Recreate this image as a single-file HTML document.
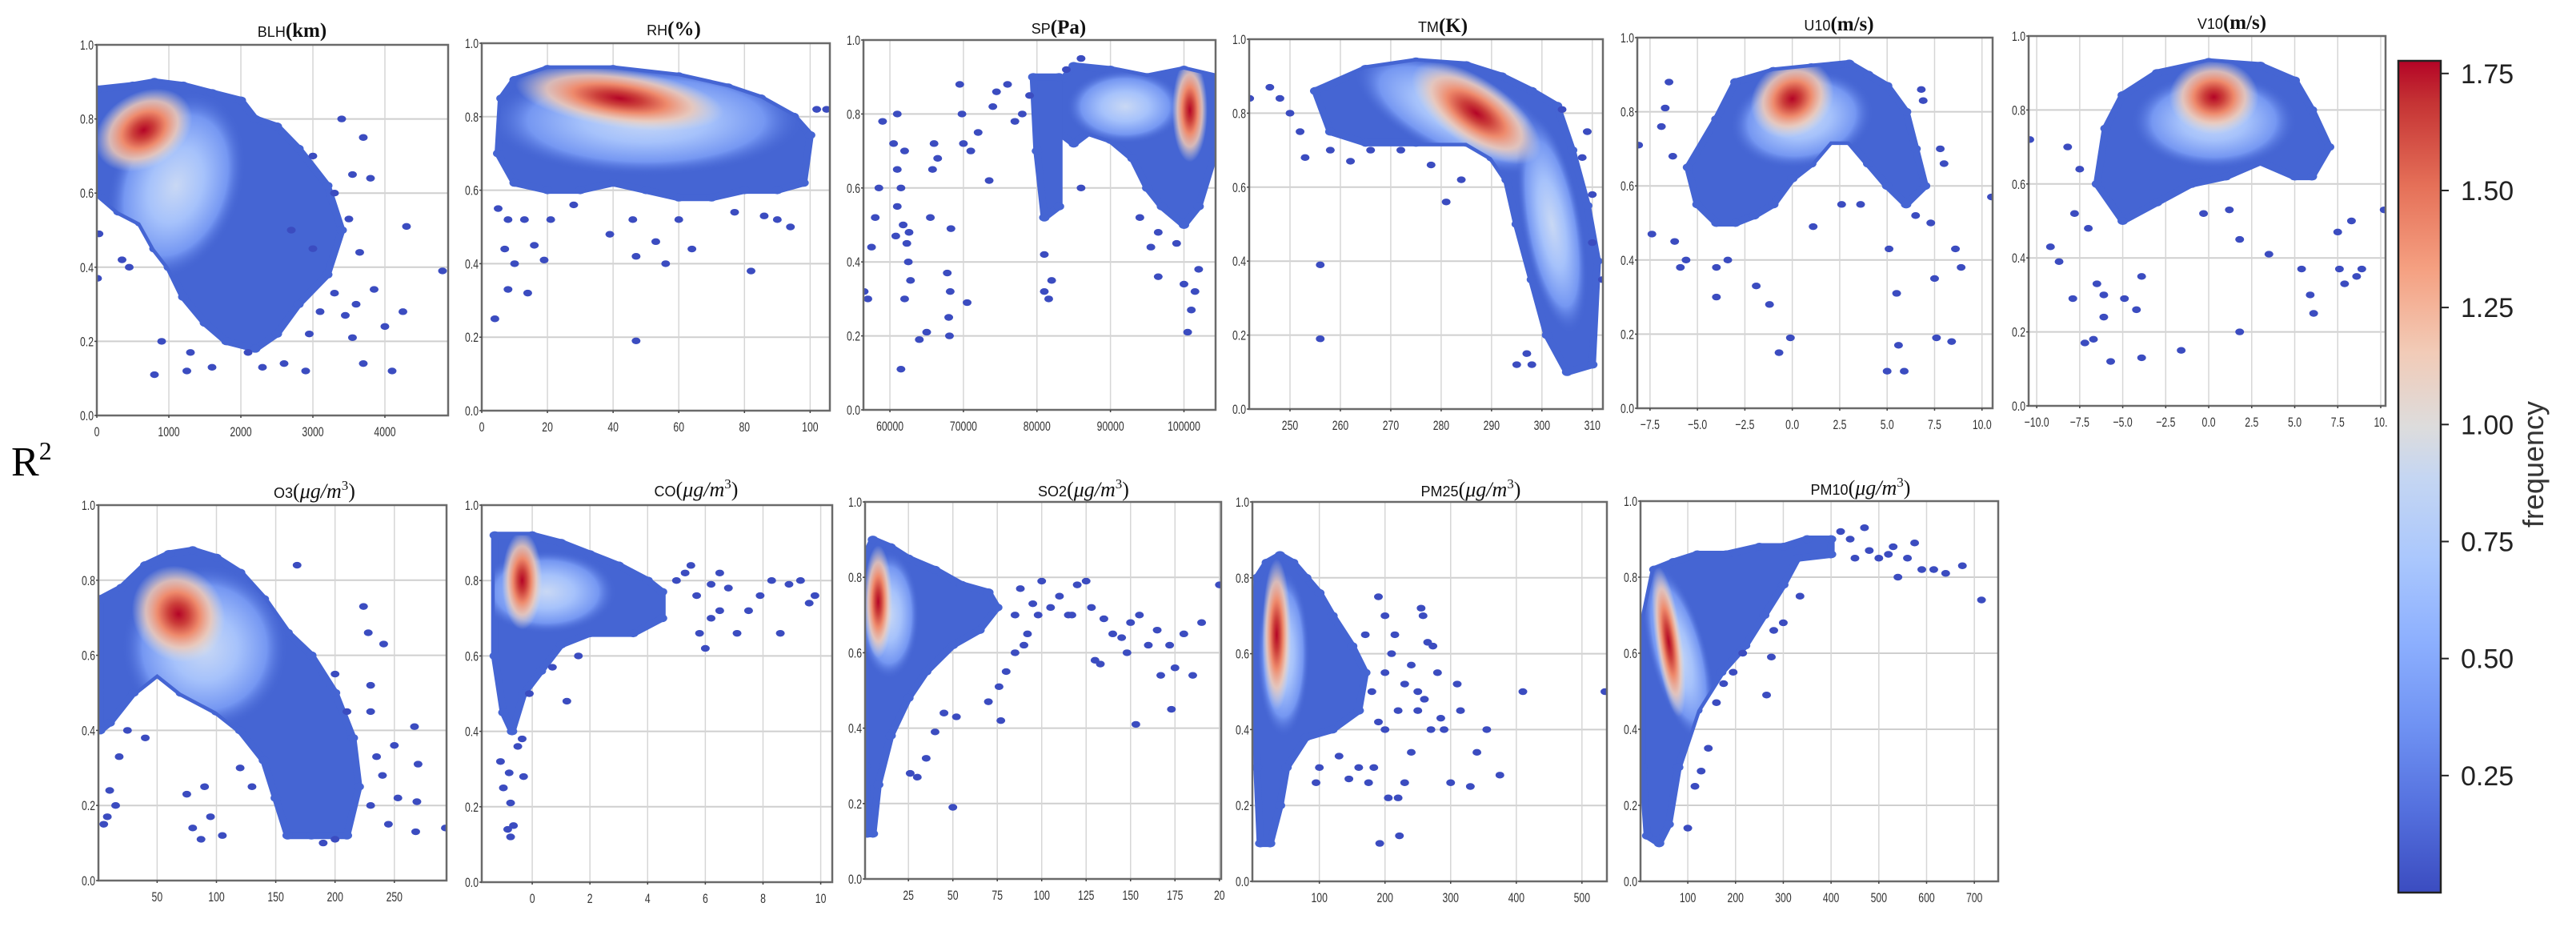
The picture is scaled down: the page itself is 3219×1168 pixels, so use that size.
<!DOCTYPE html>
<html><head><meta charset="utf-8"><title>R2 density scatter</title>
<style>html,body{margin:0;padding:0;background:#fff;}svg{display:block;}</style></head>
<body>
<svg id="chart" xmlns="http://www.w3.org/2000/svg" width="3219" height="1168" viewBox="0 0 3219 1168">
<defs>
<linearGradient id="cmap" x1="0" y1="1" x2="0" y2="0">
<stop offset="0" stop-color="#3b4cc0"/><stop offset="0.1" stop-color="#5470de"/><stop offset="0.2" stop-color="#6f92f3"/><stop offset="0.3" stop-color="#8caffe"/><stop offset="0.4" stop-color="#aac7fd"/><stop offset="0.5" stop-color="#c5d6f2"/><stop offset="0.56" stop-color="#dddcdc"/><stop offset="0.65" stop-color="#f2cbb7"/><stop offset="0.75" stop-color="#f5a081"/><stop offset="0.85" stop-color="#e57058"/><stop offset="0.95" stop-color="#c53334"/><stop offset="1" stop-color="#b40426"/>
</linearGradient>
<radialGradient id="haloGrad"><stop offset="0" stop-color="#c9d8f4"/><stop offset="0.4" stop-color="#a6c2fb"/><stop offset="0.75" stop-color="#7597f2"/><stop offset="1" stop-color="#4565d3" stop-opacity="0"/></radialGradient>
<radialGradient id="coreGrad"><stop offset="0" stop-color="#b40426"/><stop offset="0.22" stop-color="#cc3f3a"/><stop offset="0.45" stop-color="#ee8a6c"/><stop offset="0.7" stop-color="#f0c8b4" stop-opacity="0.85"/><stop offset="1" stop-color="#dddcdc" stop-opacity="0"/></radialGradient>
</defs>
<g id="panels"></g>
<text x="14" y="594" font-family="Liberation Serif, serif" font-size="52">R<tspan font-size="32" dy="-20">2</tspan></text>
<g id="colorbar"></g>
</svg>
<script>
// ---- data (data units: x, R2) ----
const blhEnv=[[0,0.88],[500,0.89],[800,0.9],[1200,0.89],[1600,0.87],[2000,0.85],[2200,0.8],[2500,0.78],[2800,0.72],[3200,0.62],[3400,0.5],[3200,0.38],[2800,0.3],[2500,0.22],[2200,0.18],[1800,0.2],[1500,0.25],[1200,0.32],[1000,0.4],[800,0.45],[600,0.52],[300,0.55],[0,0.6]];
const blhHalo=[1100,0.62,900,0.26,20];
const blhCore=[650,0.77,520,0.14,60];
const blhPts=[[10,0.37],[30,0.49],[800,0.11],[900,0.2],[1250,0.12],[1600,0.13],[2100,0.17],[2600,0.14],[2900,0.12],[3400,0.8],[3700,0.75],[3550,0.65],[3800,0.64],[4300,0.51],[4100,0.12],[4000,0.24],[4250,0.28],[3700,0.14],[4800,0.39],[3550,0.21],[3850,0.34],[3300,0.33],[2950,0.22],[3650,0.44],[3500,0.53],[350,0.42],[450,0.4],[3000,0.7],[3300,0.6],[3000,0.45],[2700,0.5],[3100,0.28],[3450,0.27],[3600,0.3],[1300,0.17],[2300,0.13]];
const rhEnv=[[6,0.85],[10,0.9],[20,0.93],[40,0.93],[60,0.91],[75,0.88],[85,0.85],[95,0.8],[100,0.75],[98,0.62],[90,0.6],[80,0.6],[70,0.58],[60,0.58],[50,0.6],[40,0.62],[30,0.6],[20,0.6],[10,0.62],[5,0.7]];
const rhHalo=[50,0.79,48,0.15,0];
const rhCore=[42,0.85,32,0.08,8];
const rhPts=[[4,0.25],[47,0.19],[8,0.33],[14,0.32],[7,0.44],[10,0.4],[19,0.41],[16,0.45],[39,0.48],[47,0.42],[53,0.46],[56,0.4],[64,0.44],[82,0.38],[94,0.5],[90,0.52],[105,0.82],[102,0.82],[5,0.55],[8,0.52],[13,0.52],[21,0.52],[28,0.56],[46,0.52],[60,0.52],[77,0.54],[86,0.53]];
const spEnv=[[85000,0.93],[90000,0.92],[95000,0.9],[100000,0.92],[104300,0.9],[104300,0.7],[102000,0.55],[100000,0.5],[97000,0.55],[95000,0.6],[93000,0.68],[90000,0.73],[87000,0.75],[85000,0.72],[83000,0.75],[83000,0.88]];
const spEnv2=[[79500,0.9],[83000,0.9],[83000,0.55],[81000,0.52],[80000,0.7]];
const spHalo=[92000,0.82,8000,0.1,0];
const spCore=[100800,0.81,2400,0.14,0];
const spPts=[[60500,0.72],[61000,0.65],[61500,0.6],[61000,0.55],[62000,0.7],[61800,0.5],[62300,0.45],[62500,0.4],[62800,0.35],[62000,0.3],[61500,0.11],[59000,0.78],[58500,0.6],[58000,0.52],[57500,0.44],[57000,0.3],[56500,0.32],[64000,0.19],[65000,0.21],[65500,0.52],[65800,0.65],[66000,0.72],[66500,0.68],[67800,0.37],[68200,0.32],[68000,0.25],[68100,0.2],[68300,0.49],[69500,0.88],[69800,0.8],[70000,0.72],[70500,0.29],[71000,0.7],[72000,0.75],[73500,0.62],[74000,0.82],[74500,0.86],[76000,0.88],[77000,0.78],[78000,0.8],[79000,0.85],[81000,0.42],[81000,0.32],[81600,0.3],[82000,0.35],[86000,0.6],[94000,0.52],[95500,0.44],[96500,0.36],[96500,0.48],[99000,0.45],[100000,0.34],[100500,0.21],[101000,0.27],[101500,0.32],[102000,0.38],[84000,0.92],[86000,0.95],[61000,0.8],[60800,0.47],[62600,0.48]];
const tmEnv=[[255,0.86],[265,0.92],[275,0.94],[285,0.93],[292,0.9],[298,0.86],[303,0.82],[306,0.7],[309,0.55],[311,0.4],[310,0.12],[305,0.1],[301,0.2],[298,0.35],[295,0.5],[293,0.62],[290,0.68],[285,0.72],[275,0.72],[265,0.72],[258,0.75]];
const tmHalo=[283,0.8,22,0.12,25];
const tmHalo2=[302,0.5,6,0.3,-10];
const tmCore=[287,0.8,15,0.09,35];
const tmPts=[[242,0.84],[246,0.87],[248,0.84],[250,0.8],[252,0.75],[253,0.68],[256,0.39],[256,0.19],[258,0.7],[262,0.67],[266,0.7],[272,0.7],[278,0.66],[281,0.56],[284,0.62],[295,0.12],[297,0.15],[298,0.12],[312,0.35],[310,0.45],[310,0.58],[309,0.75],[308,0.68],[304,0.81]];
const u10Env=[[-4,0.78],[-3,0.88],[-1,0.91],[1,0.92],[3,0.93],[4,0.9],[5,0.87],[6,0.8],[6.5,0.7],[7,0.6],[6,0.55],[5,0.6],[4,0.66],[3,0.72],[2,0.72],[1,0.66],[0,0.62],[-1,0.55],[-2,0.52],[-3,0.5],[-4,0.5],[-5,0.55],[-5.5,0.65]];
const u10Halo=[0.5,0.78,3.8,0.13,-10];
const u10Core=[0,0.835,2.3,0.1,-35];
const u10Pts=[[-6.5,0.88],[-6.7,0.81],[-6.9,0.76],[-7.4,0.47],[-6.3,0.68],[-6.2,0.45],[-5.9,0.38],[-5.6,0.4],[-4,0.3],[-4,0.38],[-3.4,0.4],[-1.9,0.33],[-1.2,0.28],[-0.7,0.15],[-0.1,0.19],[1.1,0.49],[2.6,0.55],[3.6,0.55],[5,0.1],[5.1,0.43],[5.5,0.31],[5.6,0.17],[5.9,0.1],[7.5,0.35],[7.6,0.19],[8.4,0.18],[8.6,0.43],[8.9,0.38],[7.8,0.7],[8,0.66],[6.8,0.86],[6.9,0.83],[10.5,0.57],[-8.1,0.71],[7.3,0.5],[6.5,0.52]];
const v10Env=[[-5,0.84],[-3,0.9],[0,0.93],[3,0.92],[5,0.88],[6,0.8],[7,0.7],[6,0.62],[5,0.62],[3,0.66],[1,0.62],[-1,0.6],[-3,0.55],[-5,0.5],[-6.5,0.6],[-6,0.75]];
const v10Halo=[0.3,0.77,4.8,0.13,0];
const v10Core=[0.3,0.835,2.6,0.1,0];
const v10Pts=[[-10.4,0.72],[-9.2,0.43],[-8.7,0.39],[-8.2,0.7],[-7.9,0.29],[-7.8,0.52],[-7.2,0.17],[-6.7,0.18],[-6.5,0.33],[-6.1,0.3],[-6.1,0.24],[-5.7,0.12],[-4.9,0.29],[-4.2,0.26],[-3.9,0.35],[-3.9,0.13],[-1.6,0.15],[1.8,0.2],[1.8,0.45],[3.5,0.41],[5.4,0.37],[5.9,0.3],[6.1,0.25],[7.6,0.37],[7.9,0.33],[8.6,0.35],[8.9,0.37],[8.3,0.5],[7.5,0.47],[10.2,0.53],[-0.3,0.52],[1.2,0.53],[-7,0.48],[-7.5,0.64]];
const o3Env=[[2,0.75],[20,0.78],[40,0.84],[60,0.87],[80,0.88],[100,0.86],[120,0.82],[140,0.75],[160,0.66],[180,0.6],[200,0.5],[215,0.38],[220,0.25],[210,0.12],[180,0.12],[160,0.12],[150,0.22],[140,0.32],[120,0.4],[100,0.45],[70,0.5],[50,0.55],[30,0.5],[10,0.42],[2,0.4]];
const o3Halo=[90,0.62,70,0.22,40];
const o3Core=[68,0.71,42,0.12,55];
const o3Pts=[[5,0.15],[8,0.17],[10,0.24],[15,0.2],[18,0.33],[25,0.4],[40,0.38],[75,0.23],[80,0.14],[87,0.11],[90,0.25],[95,0.17],[105,0.12],[168,0.84],[224,0.73],[228,0.66],[241,0.63],[230,0.52],[267,0.41],[270,0.31],[269,0.21],[268,0.13],[253,0.22],[250,0.36],[240,0.28],[245,0.15],[293,0.14],[200,0.55],[210,0.45],[230,0.45],[190,0.1],[200,0.11],[120,0.3],[130,0.25],[230,0.2],[235,0.33]];
const coEnv=[[-1.3,0.92],[0,0.92],[1,0.9],[2,0.87],[3,0.84],[4,0.8],[4.5,0.77],[4.5,0.7],[3.5,0.66],[2,0.66],[1,0.63],[0.3,0.56],[-0.3,0.5],[-0.7,0.4],[-1,0.45],[-1.3,0.6]];
const coHalo=[0.5,0.77,2.4,0.11,0];
const coCore=[-0.35,0.8,0.7,0.13,0];
const coPts=[[-1.1,0.32],[-1,0.25],[-0.8,0.29],[-0.75,0.21],[-0.85,0.14],[-0.75,0.12],[-0.65,0.15],[-0.3,0.28],[-0.5,0.36],[-0.35,0.38],[-0.1,0.5],[0.7,0.57],[1.2,0.48],[1.6,0.6],[5,0.8],[5.3,0.82],[5.7,0.76],[6,0.62],[6.2,0.7],[6.5,0.72],[6.8,0.78],[7.1,0.66],[7.5,0.72],[7.9,0.76],[8.3,0.8],[8.6,0.66],[8.9,0.79],[9.3,0.8],[9.6,0.74],[9.8,0.76],[5.8,0.66],[6.2,0.79],[5.5,0.84],[6.5,0.82]];
const so2Env=[[1,0.86],[5,0.9],[15,0.88],[25,0.85],[40,0.82],[55,0.78],[70,0.76],[75,0.72],[65,0.66],[50,0.62],[35,0.55],[25,0.48],[15,0.38],[8,0.25],[5,0.12],[2,0.12],[1,0.3]];
const so2Halo=[14,0.7,17,0.17,0];
const so2Core=[8,0.735,8,0.15,0];
const so2Pts=[[50,0.19],[30,0.27],[26,0.28],[35,0.32],[40,0.39],[45,0.44],[52,0.43],[70,0.47],[77,0.42],[76,0.51],[80,0.55],[85,0.6],[90,0.62],[95,0.73],[100,0.79],[105,0.72],[110,0.75],[115,0.7],[120,0.78],[125,0.79],[128,0.72],[130,0.58],[133,0.57],[135,0.69],[140,0.65],[145,0.64],[148,0.6],[150,0.68],[153,0.41],[155,0.7],[160,0.62],[165,0.66],[167,0.54],[172,0.62],[173,0.45],[175,0.56],[180,0.65],[185,0.54],[190,0.68],[200,0.78],[117,0.7],[92,0.65],[98,0.7],[85,0.7],[88,0.77]];
const pm25Env=[[5,0.8],[20,0.84],[40,0.86],[60,0.84],[80,0.8],[100,0.76],[120,0.7],[150,0.62],[170,0.55],[160,0.45],[120,0.4],[80,0.38],[50,0.3],[40,0.2],[25,0.1],[10,0.1],[5,0.3],[3,0.6]];
const pm25Halo=[45,0.6,40,0.22,0];
const pm25Core=[35,0.65,22,0.2,0];
const pm25Pts=[[130,0.33],[145,0.27],[160,0.3],[175,0.26],[183,0.3],[192,0.1],[205,0.22],[220,0.22],[222,0.12],[230,0.26],[240,0.34],[250,0.45],[258,0.7],[255,0.72],[265,0.63],[273,0.62],[280,0.55],[290,0.4],[300,0.26],[310,0.52],[315,0.45],[330,0.25],[340,0.34],[355,0.4],[375,0.28],[410,0.5],[535,0.5],[200,0.55],[210,0.6],[220,0.45],[230,0.52],[180,0.5],[190,0.42],[240,0.57],[250,0.5],[200,0.7],[215,0.65],[190,0.75],[170,0.65],[100,0.3],[95,0.26],[200,0.4],[260,0.48],[270,0.4],[285,0.43]];
const pm10Env=[[5,0.67],[30,0.82],[70,0.84],[120,0.86],[180,0.86],[250,0.88],[300,0.88],[350,0.9],[400,0.9],[400,0.86],[330,0.85],[300,0.78],[260,0.7],[220,0.62],[170,0.55],[120,0.45],[80,0.3],[60,0.15],[40,0.1],[15,0.12],[5,0.3]];
const pm10Halo=[80,0.6,60,0.24,-15];
const pm10Core=[60,0.63,28,0.2,-8];
const pm10Pts=[[100,0.14],[115,0.25],[128,0.29],[143,0.35],[160,0.47],[175,0.52],[195,0.55],[215,0.6],[265,0.49],[275,0.59],[280,0.66],[300,0.68],[335,0.75],[420,0.92],[440,0.9],[470,0.93],[500,0.85],[520,0.86],[540,0.8],[560,0.85],[575,0.89],[590,0.82],[615,0.82],[640,0.81],[675,0.83],[715,0.74],[530,0.88],[480,0.87],[450,0.85]];
// tick labels
const yTicks=[0,0.2,0.4,0.6,0.8,1.0];
const blhTicks=[0,1000,2000,3000,4000];
const rhTicks=[0,20,40,60,80,100];
const spTicks=[60000,70000,80000,90000,100000];
const tmTicks=[250,260,270,280,290,300,310];
const u10Ticks=[-7.5,-5,-2.5,0,2.5,5,7.5,10];
const v10Ticks=[-10,-7.5,-5,-2.5,0,2.5,5,7.5,10];
const o3Ticks=[50,100,150,200,250];
const coTicks=[0,2,4,6,8,10];
const so2Ticks=[25,50,75,100,125,150,175,200];
const pm25Ticks=[100,200,300,400,500];
const pm10Ticks=[100,200,300,400,500,600,700];
const cbTicks=[0.25,0.5,0.75,1.0,1.25,1.5,1.75];

const NS='http://www.w3.org/2000/svg';
function mk(tag,attrs,parent){const e=document.createElementNS(NS,tag);for(const k in attrs)e.setAttribute(k,attrs[k]);if(parent)parent.appendChild(e);return e;}

const panels=[
{key:'blh',name:'BLH',unit:'(km)',pol:false,L:121,R:560,T:56,B:519,xmin:0,xmax:4878,ticks:blhTicks,fmt:v=>String(v),tx:365,ty:46,env:[blhEnv],halos:[blhHalo],core:blhCore,pts:blhPts},
{key:'rh',name:'RH',unit:'(%)',pol:false,L:602,R:1037,T:54,B:513,xmin:0,xmax:106,ticks:rhTicks,fmt:v=>String(v),tx:842,ty:44,env:[rhEnv],halos:[rhHalo],core:rhCore,pts:rhPts},
{key:'sp',name:'SP',unit:'(Pa)',pol:false,L:1079,R:1519,T:50,B:512,xmin:56400,xmax:104300,ticks:spTicks,fmt:v=>String(v),tx:1323,ty:42,env:[spEnv,spEnv2],halos:[spHalo],core:spCore,pts:spPts},
{key:'tm',name:'TM',unit:'(K)',pol:false,L:1561,R:2003,T:49,B:511,xmin:241.9,xmax:312.1,ticks:tmTicks,fmt:v=>String(v),tx:1803,ty:40,env:[tmEnv],halos:[tmHalo,tmHalo2],core:tmCore,pts:tmPts},
{key:'u10',name:'U10',unit:'(m/s)',pol:false,L:2046,R:2490,T:47,B:510,xmin:-8.17,xmax:10.56,ticks:u10Ticks,fmt:v=>v.toFixed(1).replace('-','\u2212'),tx:2298,ty:38,env:[u10Env],halos:[u10Halo],core:u10Core,pts:u10Pts},
{key:'v10',name:'V10',unit:'(m/s)',pol:false,L:2535,R:2981,T:45,B:507,xmin:-10.47,xmax:10.28,ticks:v10Ticks,fmt:v=>(v===10?'10.':v.toFixed(1).replace('-','\u2212')),tx:2789,ty:36,env:[v10Env],halos:[v10Halo],core:v10Core,pts:v10Pts},
{key:'o3',name:'O3',pol:true,L:123,R:558,T:631,B:1100,xmin:0.5,xmax:294,ticks:o3Ticks,fmt:v=>String(v),tx:393,ty:622,env:[o3Env],halos:[o3Halo],core:o3Core,pts:o3Pts},
{key:'co',name:'CO',pol:true,L:602,R:1040,T:631,B:1102,xmin:-1.75,xmax:10.4,ticks:coTicks,fmt:v=>String(v),tx:870,ty:620,env:[coEnv],halos:[coHalo],core:coCore,pts:coPts},
{key:'so2',name:'SO2',pol:true,L:1081,R:1526,T:627,B:1098,xmin:0.6,xmax:201,ticks:so2Ticks,fmt:v=>(v===200?'20':String(v)),tx:1354,ty:620,env:[so2Env],halos:[so2Halo],core:so2Core,pts:so2Pts},
{key:'pm25',name:'PM25',pol:true,L:1565,R:2008,T:627,B:1101,xmin:-2,xmax:538,ticks:pm25Ticks,fmt:v=>String(v),tx:1838,ty:620,env:[pm25Env],halos:[pm25Halo],core:pm25Core,pts:pm25Pts},
{key:'pm10',name:'PM10',pol:true,L:2050,R:2497,T:626,B:1101,xmin:1,xmax:750,ticks:pm10Ticks,fmt:v=>String(v),tx:2325,ty:618,env:[pm10Env],halos:[pm10Halo],core:pm10Core,pts:pm10Pts}
];

const root=document.getElementById('panels');
const ENV='#4565d3', DOT='#3b4cc0';
panels.forEach(p=>{
  const xs=v=>p.L+(v-p.xmin)/(p.xmax-p.xmin)*(p.R-p.L);
  const ys=v=>p.B-v*(p.B-p.T);
  const g=mk('g',{},root);
  
  
  yTicks.forEach(t=>{ if(t>0&&t<1){const l=mk('line',{x1:p.L,x2:p.R,y1:ys(t),y2:ys(t),stroke:'#cfcfcf','stroke-width':2},g);
    }});
  p.ticks.forEach(t=>{const x=xs(t);if(x>p.L+1&&x<p.R-1){const l=mk('line',{x1:x,x2:x,y1:p.T,y2:p.B,stroke:'#d6d6d6','stroke-width':1.5},g);
    }});
  const cid='clip-'+p.key;
  const cp=mk('clipPath',{id:cid},g);
  mk('rect',{x:p.L,y:p.T,width:p.R-p.L,height:p.B-p.T},cp);
  const eid='env-'+p.key;
  const ecp=mk('clipPath',{id:eid},g);
  const plot=mk('g',{'clip-path':'url(#'+cid+')'},g);
  p.env.forEach(env=>{
    const d=env.map(q=>xs(q[0]).toFixed(1)+','+ys(q[1]).toFixed(1)).join(' ');
    const poly=mk('polygon',{points:d,fill:ENV,stroke:ENV,'stroke-width':9,'stroke-linejoin':'round'},plot);
    
    
    mk('polygon',{points:d,stroke:'#000','stroke-width':9,'stroke-linejoin':'round'},ecp);
    env.forEach(q=>{
      const c=mk('ellipse',{cx:xs(q[0]),cy:ys(q[1]),rx:6.5,ry:5,fill:ENV},plot);
      
      
    });
  });
  const inner=mk('g',{'clip-path':'url(#'+eid+')'},plot);
  const ell=(h,fill,name)=>{
    const cx=xs(h[0]),cy=ys(h[1]);
    const rx=Math.abs(xs(h[0]+h[2])-cx), ry=Math.abs(ys(h[1]+h[3])-cy);
    const e=mk('ellipse',{cx:cx,cy:cy,rx:rx,ry:ry,fill:fill,transform:'rotate('+h[4]+' '+cx+' '+cy+')'},inner);
    
    
  };
  p.halos.forEach(h=>ell(h,'url(#haloGrad)','density-halo'));
  ell(p.core,'url(#coreGrad)','density-peak');
  p.pts.forEach(q=>{
    const c=mk('ellipse',{cx:xs(q[0]),cy:ys(q[1]),rx:5.5,ry:4.2,fill:DOT},plot);
    
    
  });
  const fr=mk('rect',{x:p.L,y:p.T,width:p.R-p.L,height:p.B-p.T,fill:'none',stroke:'#6a6a6a','stroke-width':2.5},g);
  
  
  yTicks.forEach(t=>{
    const tx=mk('text',{transform:'translate('+(p.L-4)+','+(ys(t)+6)+') scale(0.72,1)','text-anchor':'end','font-family':'Liberation Sans, sans-serif','font-size':17,fill:'#333'},g);
    tx.textContent=t.toFixed(1);
    
    
    mk('line',{x1:p.L-3,x2:p.L,y1:ys(t),y2:ys(t),stroke:'#444','stroke-width':1.5},g);
  });
  p.ticks.forEach(t=>{
    const x=xs(t);
    const tx=mk('text',{transform:'translate('+x+','+(p.B+26)+') scale(0.72,1)','text-anchor':'middle','font-family':'Liberation Sans, sans-serif','font-size':17,fill:'#333'},g);
    tx.textContent=p.fmt(t);
    
    
    mk('line',{x1:x,x2:x,y1:p.B,y2:p.B+3,stroke:'#444','stroke-width':1.5},g);
  });
  const tt=mk('text',{x:p.tx,y:p.ty,'text-anchor':'middle',fill:'#111'},g);
  
  
  const s1=mk('tspan',{'font-family':'Liberation Sans, sans-serif','font-size':18},tt); s1.textContent=p.name;
  if(!p.pol){
    const s2=mk('tspan',{'font-family':'Liberation Serif, serif','font-size':25,'font-weight':'bold'},tt); s2.textContent=p.unit;
  } else {
    const a=mk('tspan',{'font-family':'Liberation Serif, serif','font-size':26},tt); a.textContent='(';
    const b=mk('tspan',{'font-family':'Liberation Serif, serif','font-size':26,'font-style':'italic'},tt); b.textContent='\u03bcg/m';
    const c=mk('tspan',{'font-family':'Liberation Serif, serif','font-size':17,dy:-10},tt); c.textContent='3';
    const d=mk('tspan',{'font-family':'Liberation Serif, serif','font-size':26,dy:10},tt); d.textContent=')';
  }
});

const cb=document.getElementById('colorbar');
const cbL=2997,cbR=3050,cbT=76,cbB=1115,cbMax=1.777;
const cys=v=>cbB-v/cbMax*(cbB-cbT);
const bar=mk('rect',{x:cbL,y:cbT,width:cbR-cbL,height:cbB-cbT,fill:'url(#cmap)',stroke:'#222','stroke-width':2.5},cb);


cbTicks.forEach(t=>{
  mk('line',{x1:cbR,x2:cbR+10,y1:cys(t),y2:cys(t),stroke:'#222','stroke-width':2},cb);
  const tx=mk('text',{x:3075,y:cys(t)+12,'font-family':'Liberation Sans, sans-serif','font-size':34,fill:'#222'},cb);
  tx.textContent=t.toFixed(2);
  
  
});
const fl=mk('text',{transform:'translate(3178,580) rotate(-90)','text-anchor':'middle','font-family':'Liberation Sans, sans-serif','font-size':36,fill:'#333'},cb);
fl.textContent='frequency';


</script>
</body></html>
